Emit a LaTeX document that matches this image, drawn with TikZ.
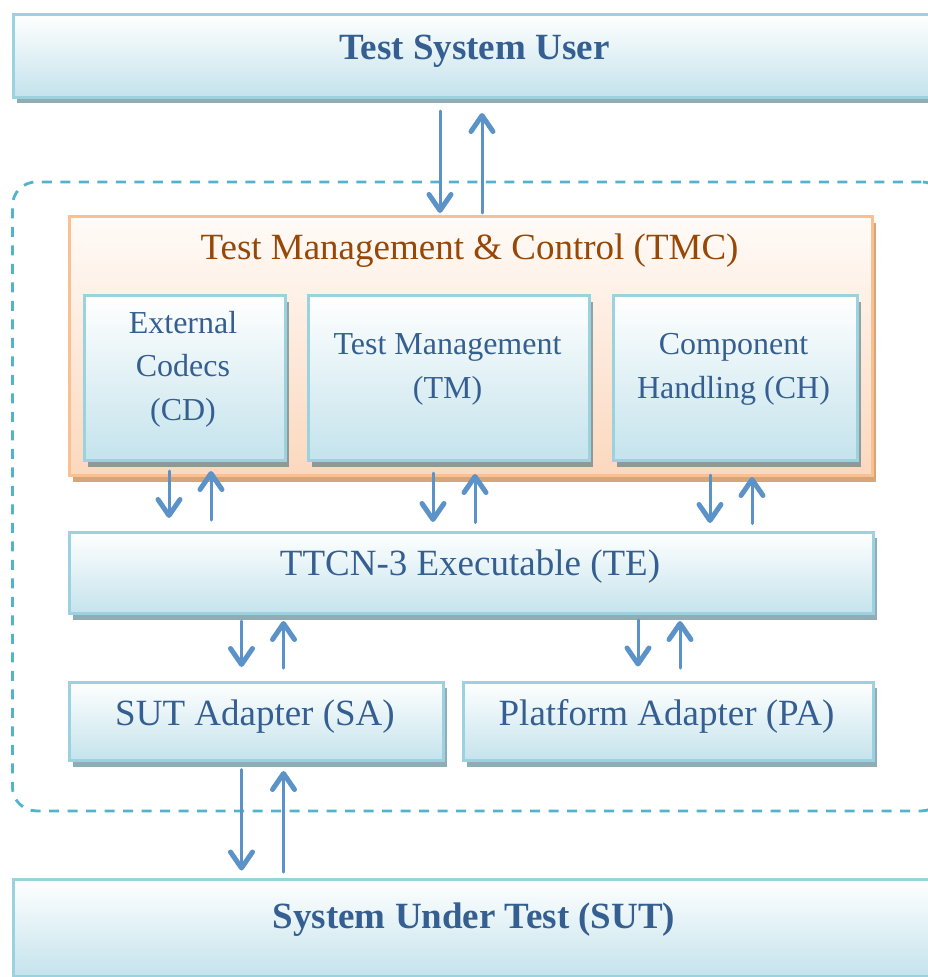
\documentclass[tikz,border=0pt]{standalone}
\usepackage{fontspec}
\setmainfont{Liberation Serif}
\usetikzlibrary{arrows.meta,shadows}
\definecolor{bxborder}{HTML}{9BD2E0}
\definecolor{bxfill}{HTML}{C4E3EC}
\definecolor{bxshadow}{HTML}{245A6A}
\definecolor{tmcborder}{HTML}{FAC090}
\definecolor{tmcfill}{HTML}{FBD8BE}
\definecolor{tmctop}{HTML}{FFFBF8}
\definecolor{tmcshadow}{HTML}{D6A67A}
\definecolor{txtblue}{HTML}{365F91}
\definecolor{txtbrown}{HTML}{984806}
\definecolor{arrowblue}{HTML}{5B93C9}
\definecolor{dashblue}{HTML}{52B4CC}
\begin{document}
\begin{tikzpicture}[x=1pt,y=-1pt,
  box/.style={draw=bxborder, line width=3pt, top color=white, bottom color=bxfill,
    anchor=north west, inner sep=0pt, rectangle,
    drop shadow={shadow xshift=3.5pt, shadow yshift=-6pt, fill=bxshadow, opacity=0.5}},
  tmcbox/.style={draw=tmcborder, line width=3pt, top color=tmctop, bottom color=tmcfill,
    anchor=north west, inner sep=0pt, rectangle,
    drop shadow={shadow xshift=3.5pt, shadow yshift=-6pt, fill=tmcshadow, opacity=1}},
  framebox/.style={draw=dashblue, line width=2.8pt, dash pattern=on 10pt off 8.5pt,
    rounded corners=24pt, anchor=north west, inner sep=0pt, rectangle},
  bigtxt/.style={font=\fontsize{37}{44}\selectfont, text=txtblue, anchor=base, inner sep=0pt},
  bigbold/.style={bigtxt, font=\fontsize{37}{44}\selectfont\bfseries},
  smalltxt/.style={font=\fontsize{32}{44}\selectfont, text=txtblue, align=center, inner sep=0pt},
  arr/.style={draw=arrowblue, line width=3pt, line cap=round,
    -{Straight Barb[length=16pt,width=22pt,line width=5pt,round]}}
]
\useasboundingbox (0,0) rectangle (928,977);

% container
\node[framebox, minimum width=933pt, minimum height=629pt] (frame) at (11,180.5) {};

% boxes
\node[box, minimum width=928.5pt, minimum height=83pt] (tsu) at (11.5,12.5) {};
\node[tmcbox, minimum width=803pt, minimum height=259pt] (tmc) at (67.5,215) {};
\node[box, minimum width=201pt, minimum height=165pt] (cd) at (83,294) {};
\node[box, minimum width=281.5pt, minimum height=165pt] (tm) at (306.5,294) {};
\node[box, minimum width=244.5pt, minimum height=165pt] (ch) at (611.5,294) {};
\node[box, minimum width=804pt, minimum height=81.5pt] (te) at (67.5,530.5) {};
\node[box, minimum width=374.5pt, minimum height=78.5pt] (sa) at (67.5,680.5) {};
\node[box, minimum width=410pt, minimum height=78.5pt] (pa) at (462,680.5) {};
\node[box, minimum width=928.5pt, minimum height=96.5pt] (sut) at (11.5,878) {};

% texts
\node[bigbold] (tsutext) at (474.5,59) {Test System User};
\node[bigtxt, text=txtbrown] (tmctext) at (469.5,259) {Test Management \& Control (TMC)};
\node[smalltxt, font=\fontsize{32}{43.5}\selectfont] (cdtext) at (183,369) {External\\Codecs\\(CD)};
\node[smalltxt] (tmtext) at (447.5,369) {Test Management\\(TM)};
\node[smalltxt] (chtext) at (733.5,369) {Component\\Handling (CH)};
\node[bigtxt] (tetext) at (470,575) {TTCN-3 Executable (TE)};
\node[bigtxt] (satext) at (255,725) {SUT Adapter (SA)};
\node[bigtxt] (patext) at (666.5,725) {Platform Adapter (PA)};
\node[bigbold] (suttext) at (474,928) {System Under Test (SUT)};

% arrow columns
\coordinate (c1) at (440,0);   \coordinate (c2) at (482,0);
\coordinate (c3) at (169,0);   \coordinate (c4) at (211,0);
\coordinate (c5) at (433,0);   \coordinate (c6) at (475,0);
\coordinate (c7) at (710,0);   \coordinate (c8) at (752,0);
\coordinate (c9) at (241.5,0); \coordinate (c10) at (283.5,0);
\coordinate (c11) at (638,0);  \coordinate (c12) at (680,0);

% arrows
\draw[arr, shorten <=12.5pt, shorten >=2pt] (tsu.south -| c1) -- (tmc.north -| c1);
\draw[arr, shorten <=2pt, shorten >=14.5pt] (tmc.north -| c2) -- (tsu.south -| c2);

\draw[arr, shorten <=9pt, shorten >=12.5pt] (cd.south -| c3) -- (te.north -| c3);
\draw[arr, shorten <=10.5pt, shorten >=9pt] (te.north -| c4) -- (cd.south -| c4);

\draw[arr, shorten <=11pt, shorten >=8.5pt] (tm.south -| c5) -- (te.north -| c5);
\draw[arr, shorten <=8pt, shorten >=12pt] (te.north -| c6) -- (tm.south -| c6);

\draw[arr, shorten <=13pt, shorten >=7.5pt] (ch.south -| c7) -- (te.north -| c7);
\draw[arr, shorten <=7pt, shorten >=15pt] (te.north -| c8) -- (ch.south -| c8);

\draw[arr, shorten <=6pt, shorten >=13.5pt] (te.south -| c9) -- (sa.north -| c9);
\draw[arr, shorten <=12.5pt, shorten >=6pt] (sa.north -| c10) -- (te.south -| c10);

\draw[arr, shorten <=5pt, shorten >=14pt] (te.south -| c11) -- (pa.north -| c11);
\draw[arr, shorten <=12.5pt, shorten >=6pt] (pa.north -| c12) -- (te.south -| c12);

\draw[arr, shorten <=7.5pt, shorten >=7.5pt] (sa.south -| c9) -- (sut.north -| c9);
\draw[arr, shorten <=6pt, shorten >=9pt] (sut.north -| c10) -- (sa.south -| c10);
\end{tikzpicture}
\end{document}
